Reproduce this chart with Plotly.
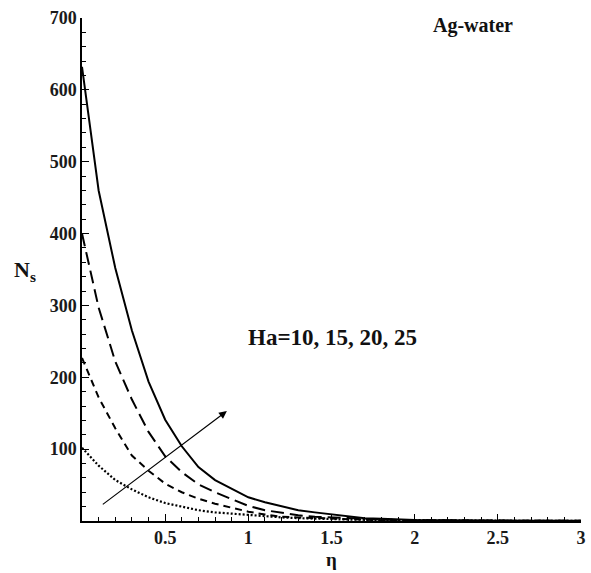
import plotly.graph_objects as go

eta = [0, 0.1, 0.2, 0.3, 0.4, 0.5, 0.6, 0.7, 0.8, 0.9, 1.0, 1.1, 1.2, 1.3, 1.4, 1.5, 1.6, 1.7, 1.8, 2.0, 2.5, 3.0]
ns_ha10 = [102, 77, 57, 44, 33, 25, 20, 15, 12, 10, 8, 6, 5, 4, 3, 2.5, 2, 1.7, 1.5, 1, 0.4, 0.2]
ns_ha15 = [227, 172, 129, 91, 70, 52, 40, 31, 24, 18, 13, 9, 6, 5, 4, 3, 2, 1.5, 1, 0.8, 0.3, 0.1]
ns_ha20 = [400, 297, 222, 169, 124, 90, 68, 51, 40, 31, 21, 15, 11, 8, 6, 5, 3, 2.5, 2, 1, 0.4, 0.2]
ns_ha25 = [632, 460, 352, 265, 194, 141, 104, 75, 57, 45, 33, 26, 20, 15, 12, 9, 6, 4, 3, 1.5, 0.5, 0.2]

x_ticks = [0.5, 1, 1.5, 2, 2.5, 3]
x_ticktext = ["0.5", "1", "1.5", "2", "2.5", "3"]
y_ticks = [100, 200, 300, 400, 500, 600, 700]
y_ticktext = ["100", "200", "300", "400", "500", "600", "700"]

arrow_start = (0.107, 20)
arrow_end = (0.871, 153)

FONT = "Liberation Serif"

fig = go.Figure()
styles = [
    (ns_ha10, "Ha=10", "2px,2px", 2.2),
    (ns_ha15, "Ha=15", "7px,5px", 2.0),
    (ns_ha20, "Ha=20", "13px,6px", 2.0),
    (ns_ha25, "Ha=25", "solid", 2.0),
]
for ys, name, dash, w in styles:
    fig.add_trace(go.Scatter(x=eta, y=ys, mode="lines", name=name,
                             line=dict(color="black", width=w, dash=dash)))

fig.add_annotation(x=arrow_end[0], y=arrow_end[1], ax=arrow_start[0], ay=arrow_start[1],
                   xref="x", yref="y", axref="x", ayref="y",
                   showarrow=True, arrowhead=2, arrowsize=1.3, arrowwidth=1.2,
                   arrowcolor="black")
fig.add_annotation(x=0.985, y=255, xref="x", yref="y", text="<b>Ha=10, 15, 20, 25</b>",
                   showarrow=False, xanchor="left", yanchor="middle",
                   font=dict(family=FONT, size=23, color="#111"))
fig.add_annotation(x=2.35, y=689, xref="x", yref="y", text="<b>Ag-water</b>",
                   showarrow=False, xanchor="center", yanchor="middle",
                   font=dict(family=FONT, size=20, color="#111"))
fig.add_annotation(x=-0.115, y=0.497, xref="paper", yref="paper",
                   text="<b>N<sub>s</sub></b>", showarrow=False,
                   xanchor="center", yanchor="middle",
                   font=dict(family=FONT, size=22, color="#111"))
fig.add_annotation(x=0.5, y=-0.077, xref="paper", yref="paper",
                   text="<b>η</b>", showarrow=False,
                   xanchor="center", yanchor="middle",
                   font=dict(family=FONT, size=19, color="#111"))

axis_common = dict(showgrid=False, zeroline=False, showline=True, linecolor="black",
                   linewidth=1.5, ticks="inside", ticklen=7, tickwidth=1.2,
                   tickcolor="black", mirror=False,
                   tickfont=dict(family=FONT, size=18, color="#1a1a1a"))
fig.update_xaxes(range=[0, 3], tickmode="array", tickvals=x_ticks,
                 ticktext=["<b>" + t + "</b>" for t in x_ticktext],
                 minor=dict(tickmode="linear", tick0=0, dtick=0.1, ticks="inside",
                            ticklen=4, tickwidth=1, tickcolor="black"),
                 **axis_common)
fig.update_yaxes(range=[0, 700], tickmode="array", tickvals=y_ticks,
                 ticktext=["<b>" + t + "</b>" for t in y_ticktext],
                 minor=dict(tickmode="linear", tick0=0, dtick=20, ticks="inside",
                            ticklen=4, tickwidth=1, tickcolor="black"),
                 **axis_common)
fig.update_layout(width=591, height=573, showlegend=False,
                  margin=dict(l=82, r=5, t=18, b=52),
                  plot_bgcolor="white", paper_bgcolor="white",
                  font=dict(family=FONT, color="black"))
fig.write_html("out.html")
